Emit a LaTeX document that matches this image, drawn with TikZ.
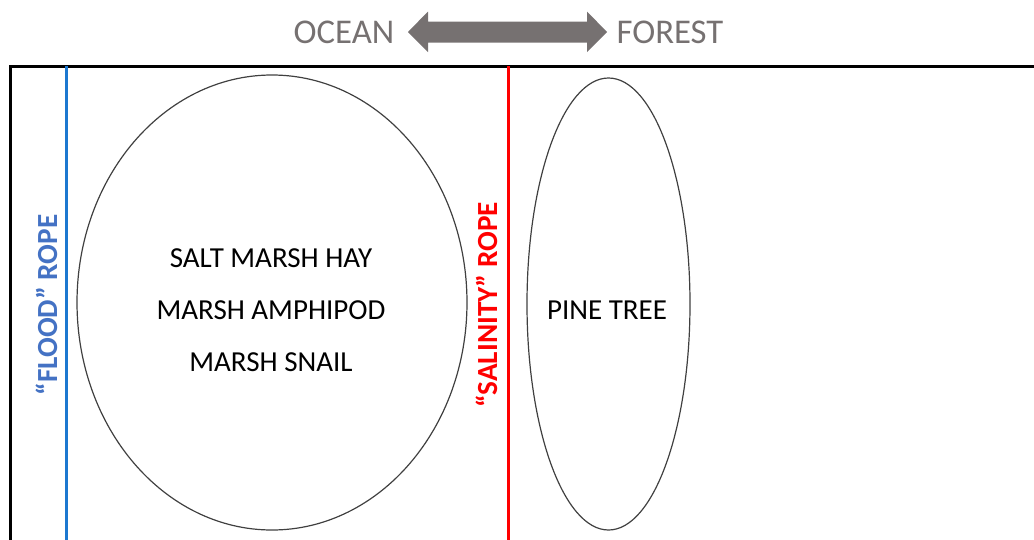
\documentclass[tikz,border=0pt]{standalone}
\usepackage{fontspec}
\setmainfont{Carlito}
\begin{document}
\begin{tikzpicture}[x=1pt,y=-1pt,
  lbl/.style={font=\fontsize{29}{29}\selectfont, text=black, inner sep=0pt},
  ropelbl/.style={font=\bfseries\fontsize{29.2}{29.2}\selectfont, rotate=90, inner sep=0pt},
  dir/.style={font=\fontsize{34.7}{34.7}\selectfont, text=arrowgray, inner sep=0pt}]
\definecolor{arrowgray}{HTML}{767171}
\definecolor{floodblue}{HTML}{4472C4}
\definecolor{ropeblue}{HTML}{1C78D0}
\useasboundingbox (0,0) rectangle (1034,539);
% frame
\coordinate (ftl) at (10,66);
\coordinate (fbl) at (10,545);
\coordinate (ftr) at (1040,66);
\draw[line width=3pt] (fbl) -- (ftl) -- (ftr);
% ropes
\coordinate (bt) at (66,66); \coordinate (bb) at (66,545);
\coordinate (rt) at (508,66); \coordinate (rb) at (508,545);
\draw[ropeblue, line width=3pt] (bt) -- (bb);
\draw[red, line width=3pt] (rt) -- (rb);
% ellipses
\draw[black!75, line width=1.2pt] (272,302.5) ellipse [x radius=195, y radius=227.5];
\draw[black!75, line width=1.2pt] (608.5,304) ellipse [x radius=81.5, y radius=226];
\node[lbl] (hay) at (271,258) {SALT MARSH HAY};
\node[lbl] (amph) at (271,310) {MARSH AMPHIPOD};
\node[lbl] (snail) at (271,362) {MARSH SNAIL};
\node[lbl] (pine) at (607,310) {PINE TREE};
% rope labels
\node[ropelbl, text=floodblue] (flood) at (47,305) {“FLOOD” ROPE};
\node[ropelbl, text=red] (salin) at (487,305) {“SALINITY” ROPE};
% top arrow
\node[dir] (ocean) at (344,32) {OCEAN};
\node[dir] (forest) at (670,32) {FOREST};
\fill[arrowgray] (408,32) -- (428,11.5) -- (428,21.5) -- (587,21.5) -- (587,11.5) -- (607,32)
  -- (587,52) -- (587,42.5) -- (428,42.5) -- (428,52) -- cycle;
\end{tikzpicture}
\end{document}
